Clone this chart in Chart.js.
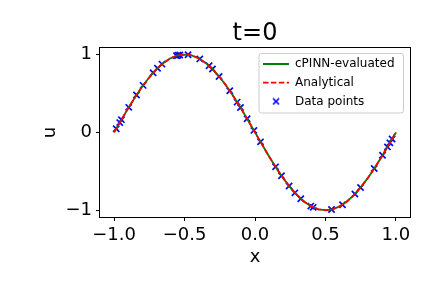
<!DOCTYPE html>
<html><head><meta charset="utf-8">
<script src="https://cdn.jsdelivr.net/npm/chart.js@4"></script>
<style>html,body{margin:0;padding:0;background:#fff}canvas{display:block}</style>
</head><body>
<canvas id="c" width="432" height="288"></canvas>
<script>
// ---- data ----
const chartTitle = 't=0';
const seriesLabels = ['cPINN-evaluated', 'Analytical', 'Data points'];
const xCurve = [-1, -0.95, -0.9, -0.85, -0.8, -0.75, -0.7, -0.65, -0.6, -0.55, -0.5, -0.45, -0.4, -0.35, -0.3, -0.25, -0.2, -0.15, -0.1, -0.05,
  0, 0.05, 0.1, 0.15, 0.2, 0.25, 0.3, 0.35, 0.4, 0.45, 0.5, 0.55, 0.6, 0.65, 0.7, 0.75, 0.8, 0.85, 0.9, 0.95, 1];
const uAnalytical = [0, 0.156, 0.309, 0.454, 0.588, 0.707, 0.809, 0.891, 0.951, 0.988, 1, 0.988, 0.951, 0.891, 0.809, 0.707, 0.588, 0.454, 0.309, 0.156,
  0, -0.156, -0.309, -0.454, -0.588, -0.707, -0.809, -0.891, -0.951, -0.988, -1, -0.988, -0.951, -0.891, -0.809, -0.707, -0.588, -0.454, -0.309, -0.156, 0];
const uCpinn = [0.002, 0.157, 0.309, 0.454, 0.588, 0.707, 0.809, 0.891, 0.951, 0.988, 0.999, 0.988, 0.951, 0.891, 0.809, 0.707, 0.588, 0.454, 0.309, 0.156,
  0, -0.156, -0.309, -0.454, -0.588, -0.707, -0.809, -0.891, -0.951, -0.988, -0.999, -0.988, -0.951, -0.891, -0.809, -0.707, -0.588, -0.454, -0.309, -0.157, -0.002];
const xData = [-0.985, -0.96, -0.948, -0.896, -0.841, -0.794, -0.723, -0.692, -0.66, -0.557, -0.546, -0.534, -0.475, -0.392, -0.326, -0.302, -0.255,
  -0.179, -0.127, -0.103, -0.056, -0.008, 0.039, 0.146, 0.188, 0.242, 0.283, 0.325, 0.396, 0.413, 0.543, 0.621, 0.709, 0.749, 0.846, 0.905, 0.94, 0.957, 0.973];
const uData = [0.047, 0.125, 0.163, 0.321, 0.479, 0.603, 0.765, 0.824, 0.876, 0.984, 0.99, 0.994, 0.997, 0.943, 0.854, 0.813, 0.718,
  0.533, 0.388, 0.318, 0.175, 0.025, -0.122, -0.443, -0.557, -0.689, -0.777, -0.853, -0.947, -0.963, -0.991, -0.929, -0.792, -0.709, -0.465, -0.294, -0.187, -0.135, -0.085];
const xTicks = [-1, -0.5, 0, 0.5, 1];
const yTicks = [-1, 0, 1];
const xRange = [-1.1, 1.1];
const yRange = [-1.087, 1.083];

// ---- helpers ----
const pts = (xs, ys) => xs.map((x, i) => ({x: x, y: ys[i]}));
const minus = s => String(s).replace('-', '\u2212');
Chart.defaults.font.family = 'DejaVu Sans';
Chart.defaults.color = '#000';

// small "x" icon for the legend entry of the scatter series
const xIcon = document.createElement('canvas');
xIcon.width = 8; xIcon.height = 8;
(function () {
  const c = xIcon.getContext('2d');
  c.strokeStyle = 'blue'; c.lineWidth = 1.7;
  c.beginPath(); c.moveTo(1, 1); c.lineTo(7, 7); c.moveTo(7, 1); c.lineTo(1, 7); c.stroke();
})();

const frameAndLegend = {
  id: 'frameAndLegend',
  afterLayout(chart) {
    const lg = chart.legend, ca = chart.chartArea;
    if (!lg) return;
    const ctx = chart.ctx;
    ctx.save(); ctx.font = '12px DejaVu Sans';
    const tw = Math.max(...seriesLabels.map(t => ctx.measureText(t).width));
    ctx.restore();
    const pad = lg.options.labels.padding;
    const frameW = tw + 45;
    const frameRight = ca.right - 6.5;
    const frameTop = ca.top + 5.5;
    const frameLeft = frameRight - frameW;
    lg._frame = {x: frameLeft, y: frameTop, w: frameW, h: 59.5};
    lg.left = frameLeft + 4 - pad;
    lg.top = frameTop + 4.5 - pad;
    lg.width = frameW + pad;
    lg.right = lg.left + lg.width;
    lg.height = 80;
    lg.bottom = lg.top + lg.height;
  },
  beforeDraw(chart) {
    const lg = chart.legend;
    if (!lg || !lg._frame) return;
    const f = lg._frame, ctx = chart.ctx;
    ctx.save();
    ctx.beginPath();
    if (ctx.roundRect) ctx.roundRect(f.x, f.y, f.w, f.h, 2.5); else ctx.rect(f.x, f.y, f.w, f.h);
    ctx.fillStyle = 'rgba(255,255,255,0.8)';
    ctx.fill();
    ctx.strokeStyle = '#cccccc'; ctx.lineWidth = 1;
    ctx.stroke();
    ctx.restore();
  },
  afterDatasetsDraw(chart) {
    const ca = chart.chartArea, ctx = chart.ctx;
    ctx.save();
    ctx.strokeStyle = '#000'; ctx.lineWidth = 1;
    ctx.strokeRect(ca.left - 0.5, ca.top - 0.5, ca.right - ca.left + 1, ca.bottom - ca.top + 1);
    ctx.restore();
  }
};

const tickFont = {size: 18};
new Chart(document.getElementById('c'), {
  type: 'scatter',
  data: {
    datasets: [
      {label: seriesLabels[0], data: pts(xCurve, uCpinn), showLine: true, borderColor: 'green', backgroundColor: 'green',
       borderWidth: 1.8, pointRadius: 0, pointHoverRadius: 0, fill: false, tension: 0, order: 2},
      {label: seriesLabels[1], data: pts(xCurve, uAnalytical), showLine: true, borderColor: 'red', backgroundColor: 'red',
       borderWidth: 1.8, borderDash: [5.5, 2.4], pointRadius: 0, pointHoverRadius: 0, fill: false, tension: 0, order: 1},
      {label: seriesLabels[2], data: pts(xData, uData), showLine: false, pointStyle: 'crossRot', pointRadius: 4.4,
       borderColor: 'blue', backgroundColor: 'blue', borderWidth: 1.7, order: 3}
    ]
  },
  options: {
    responsive: false,
    animation: false,
    devicePixelRatio: 1,
    layout: {padding: {left: 0, right: 22, top: 0, bottom: 0}},
    plugins: {
      tooltip: {enabled: false},
      title: {display: true, text: chartTitle, fullSize: false, color: '#000',
              font: {size: 24, weight: 'normal'}, padding: {top: 19, bottom: 0.2}},
      legend: {
        display: true, position: 'chartArea', align: 'start',
        labels: {
          usePointStyle: true, pointStyleWidth: 26, padding: 6.7, color: '#000', font: {size: 12},
          generateLabels(chart) {
            const items = Chart.defaults.plugins.legend.labels.generateLabels(chart);
            items.forEach(it => {
              const ds = chart.data.datasets[it.datasetIndex];
              if (ds.showLine) {
                it.pointStyle = 'line';
                it.lineDash = ds.borderDash || [];
                it.lineWidth = ds.borderWidth;
                it.strokeStyle = ds.borderColor;
              } else {
                it.pointStyle = xIcon;
              }
            });
            return items.sort((a, b) => a.datasetIndex - b.datasetIndex);
          }
        }
      }
    },
    scales: {
      x: {
        type: 'linear', min: xRange[0], max: xRange[1],
        afterBuildTicks: s => { s.ticks = xTicks.map(v => ({value: v})); },
        afterFit: s => { s.height = 71; },
        ticks: {font: tickFont, color: '#000', padding: 4, maxRotation: 0, autoSkip: false,
                callback: v => minus(Number(v).toFixed(1))},
        grid: {display: true, drawOnChartArea: false, drawTicks: true, tickLength: 4, color: '#000', lineWidth: 1},
        border: {display: false},
        title: {display: true, text: 'x', color: '#000', font: {size: 18}, padding: {top: 0, bottom: 20}}
      },
      y: {
        type: 'linear', min: yRange[0], max: yRange[1],
        afterBuildTicks: s => { s.ticks = yTicks.map(v => ({value: v})); },
        afterFit: s => { s.width = 100; },
        ticks: {font: tickFont, color: '#000', padding: 4, autoSkip: false,
                callback: v => minus(String(v))},
        grid: {display: true, drawOnChartArea: false, drawTicks: true, tickLength: 4, color: '#000', lineWidth: 1},
        border: {display: false},
        title: {display: true, text: 'u', color: '#000', font: {size: 18}, padding: {top: 40, bottom: 0}}
      }
    }
  },
  plugins: [frameAndLegend]
});
</script>
</body></html>
